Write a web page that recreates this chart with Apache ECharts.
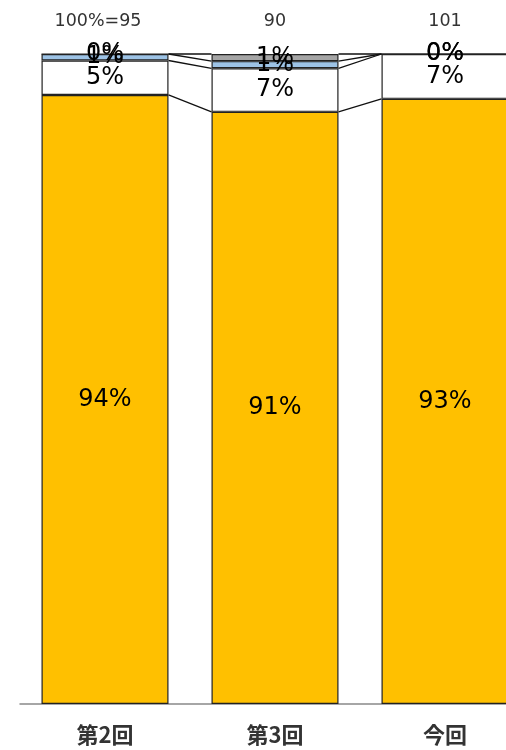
<!DOCTYPE html>
<html><head><meta charset="utf-8">
<script src="https://cdn.jsdelivr.net/npm/echarts@6/dist/echarts.min.js"></script>
<style>html,body{margin:0;padding:0;background:#fff;overflow:hidden}#c{width:506px;height:750px}</style>
</head><body><div id="c"></div>
<script>
const categories = ['第2回', '第3回', '今回'];
const totals = ['100%=95', '90', '101'];
const orangeVals = [93.7, 91.1, 93.1];
const whiteVals = [5.3, 6.7, 6.9];
const blueVals = [1.0, 1.1, 0];
const grayVals = [0, 1.1, 0];

const seriesDefs = [
  { name: 'a', data: orangeVals, color: '#FFC000' },
  { name: 'b', data: whiteVals, color: '#FFFFFF' },
  { name: 'c', data: blueVals, color: '#9DC3E6' },
  { name: 'd', data: grayVals, color: '#A5A5A5' }
];

const BAR_W = 127;
const FONT = '"DejaVu Sans", Verdana, sans-serif';

const levels = categories.map((_, i) => {
  let s = 0; const out = [];
  seriesDefs.forEach(d => { s += d.data[i]; out.push(Math.min(s, 100)); });
  return out;
});
const connData = [];
for (let i = 0; i < categories.length - 1; i++) connData.push([i].concat(levels[i]).concat(levels[i + 1]));

const chart = echarts.init(document.getElementById('c'));
chart.setOption({
  animation: false,
  grid: { left: 20, width: 510, top: 54, height: 650, outerBoundsMode: 'none', containLabel: false },
  xAxis: [
    { type: 'category', data: categories, position: 'bottom',
      axisLine: { lineStyle: { color: '#898989', width: 1.5 } },
      axisTick: { show: false },
      axisLabel: { margin: 20, fontSize: 22, fontWeight: 'bold', color: '#333', fontFamily: '"Noto Sans CJK JP", sans-serif' } },
    { type: 'category', data: totals, position: 'top',
      axisLine: { show: false }, axisTick: { show: false },
      axisLabel: { margin: 24, fontSize: 17.5, color: '#333', fontFamily: FONT,
        formatter: (v, i) => i === 0 ? '{s|' + v + '}' : v,
        rich: { s: { fontSize: 17.5, color: '#333', fontFamily: FONT, padding: [0, 14, 0, 0] } } } }
  ],
  yAxis: { type: 'value', min: 0, max: 100, show: false, splitLine: { show: false } },
  series: seriesDefs.map(d => ({
    type: 'bar', name: d.name, stack: 'all', data: d.data, barWidth: BAR_W,
    itemStyle: { color: d.color, borderColor: '#222', borderWidth: 1.2 },
    label: { show: true, position: 'inside', fontSize: 24, fontFamily: FONT, color: '#000',
      formatter: p => Math.round(p.value) + '%' }
  })).concat([{
    type: 'custom', data: connData, z: 5, silent: true,
    renderItem: (params, api) => {
      const i = api.value(0);
      const n = seriesDefs.length;
      const half = BAR_W / 2;
      const children = [];
      for (let k = 0; k < n; k++) {
        const p1 = api.coord([i, api.value(1 + k)]);
        const p2 = api.coord([i + 1, api.value(1 + n + k)]);
        children.push({ type: 'line',
          shape: { x1: p1[0] + half, y1: p1[1], x2: p2[0] - half, y2: p2[1] },
          style: { stroke: '#111', lineWidth: 1.3 } });
      }
      return { type: 'group', children };
    }
  }])
});
</script></body></html>
